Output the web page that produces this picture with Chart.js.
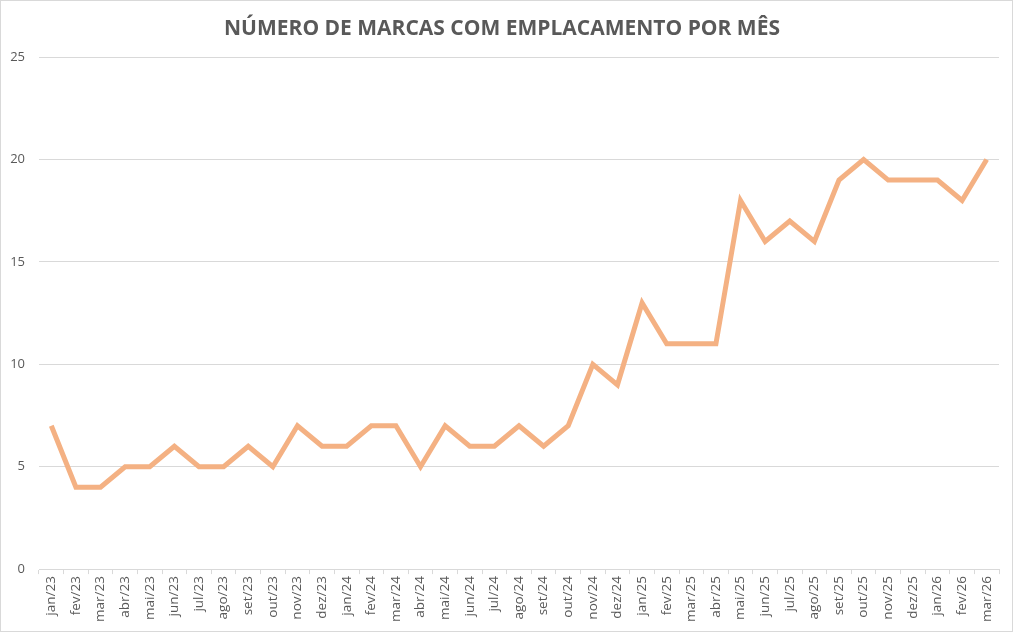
<!DOCTYPE html>
<html>
<head>
<meta charset="utf-8">
<script src="https://cdn.jsdelivr.net/npm/chart.js@4"></script>
<style>
  html, body { margin: 0; padding: 0; background: #fff; }
  #wrap { width: 1011px; height: 630px; border: 1px solid #d9d9d9; }
</style>
</head>
<body>
<div id="wrap"><canvas id="chart" width="1011" height="630"></canvas></div>
<script>
const months = [
  "jan/23","fev/23","mar/23","abr/23","mai/23","jun/23","jul/23","ago/23","set/23","out/23","nov/23","dez/23",
  "jan/24","fev/24","mar/24","abr/24","mai/24","jun/24","jul/24","ago/24","set/24","out/24","nov/24","dez/24",
  "jan/25","fev/25","mar/25","abr/25","mai/25","jun/25","jul/25","ago/25","set/25","out/25","nov/25","dez/25",
  "jan/26","fev/26","mar/26"
];
const marcas = [
  7, 4, 4, 5, 5, 6, 5, 5, 6, 5, 7, 6,
  6, 7, 7, 5, 7, 6, 6, 7, 6, 7, 10, 9,
  13, 11, 11, 11, 18, 16, 17, 16, 19, 20, 19, 19,
  19, 18, 20
];
const yTicks = [0, 5, 10, 15, 20, 25];

const txt = "#595959";
const grid = "#d9d9d9";

new Chart(document.getElementById("chart"), {
  type: "line",
  data: {
    labels: months,
    datasets: [{
      label: "Marcas",
      data: marcas,
      borderColor: "#f4b183",
      borderWidth: 5,
      pointRadius: 0,
      tension: 0,
      fill: false
    }]
  },
  options: {
    responsive: false,
    animation: false,
    layout: { padding: { left: 4, right: 13, top: 4, bottom: 7 } },
    plugins: {
      legend: { display: false },
      tooltip: { enabled: false },
      title: {
        display: true,
        text: "NÚMERO DE MARCAS COM EMPLACAMENTO POR MÊS",
        color: txt,
        font: { family: "Open Sans", size: 21, weight: "bold" },
        padding: { top: 11, bottom: 16 }
      }
    },
    scales: {
      x: {
        offset: true,
        grid: {
          offset: true,
          drawOnChartArea: false,
          drawTicks: true,
          tickLength: 5,
          color: grid
        },
        border: { color: grid },
        ticks: {
          color: txt,
          font: { family: "Open Sans", size: 13.5 },
          maxRotation: 90,
          minRotation: 90,
          autoSkip: false,
          padding: 2
        }
      },
      y: {
        min: 0,
        max: 25,
        afterBuildTicks: (axis) => { axis.ticks = yTicks.map(v => ({ value: v })); },
        afterFit: (axis) => { axis.width = 34; },
        grid: { color: grid, drawTicks: false },
        border: { display: false },
        ticks: {
          color: txt,
          font: { family: "Open Sans", size: 13 },
          padding: 14
        }
      }
    }
  }
});
</script>
</body>
</html>
